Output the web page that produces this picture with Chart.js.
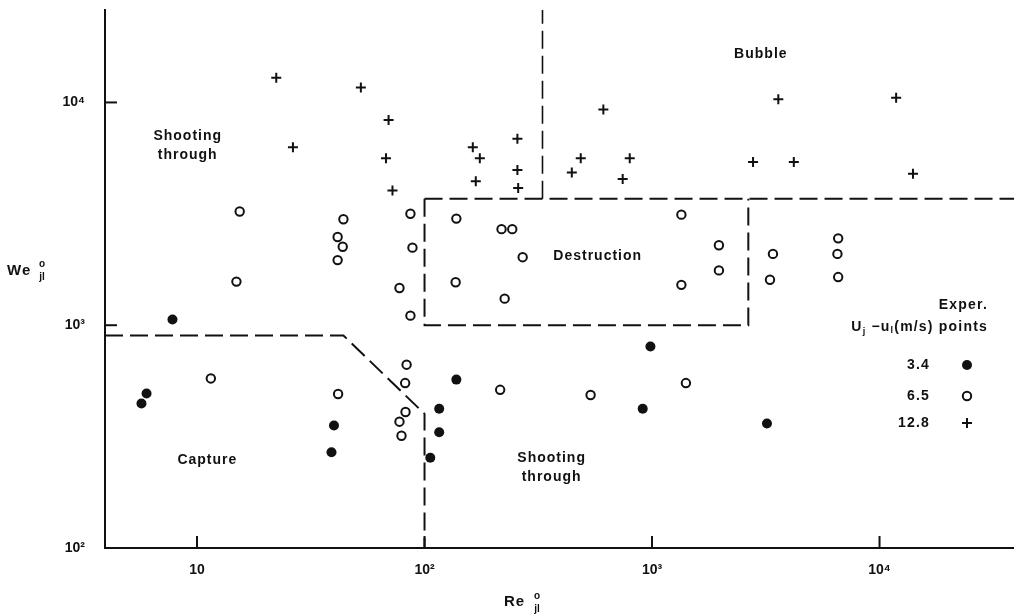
<!DOCTYPE html>
<html>
<head>
<meta charset="utf-8">
<script src="https://cdn.jsdelivr.net/npm/chart.js"></script>
<style>
  html, body { margin: 0; padding: 0; background: #fff; }
  #wrap { width: 1014px; height: 615px; position: relative; }
</style>
</head>
<body>
<div id="wrap"><canvas id="regimeChart"></canvas></div>
<script>
    // axis ranges (Re on x, We on y, both log)
    const xMin = 3.94, xMax = 39000;
    const yMin = 100, yMax = 26000;
    const xTicks = [10, 100, 1000, 10000];
    const yTicks = [100, 1000, 10000];
    const tickText = { 10: '10', 100: '10²', 1000: '10³', 10000: '10⁴' };

    // U_j - u_l = 3.4 m/s (filled circles)
    const re34 = [5.7, 6.0, 7.8, 40, 39, 138, 116, 116, 106, 984, 910, 3200];
    const we34 = [445, 494, 1060, 355, 269, 570, 422, 331, 254, 802, 422, 362];

    // 6.5 m/s (open circles)
    const re65 = [15.4, 14.9, 11.5, 44, 41.5, 43.7, 41.5, 41.7, 86.7, 88.5, 77.6, 86.7, 83.4, 82.2, 82.5, 77.6, 79.2,
                  138, 137, 218, 243, 270, 225, 215, 537, 1346, 1346, 1968, 1968, 1409, 3400, 3300, 6580, 6530, 6580];
    const we65 = [3240, 1570, 577, 2990, 2490, 2250, 1960, 491, 3165, 2230, 1470, 1104, 665, 550, 408, 369, 319,
                  3010, 1560, 2700, 2700, 2020, 1316, 513, 486, 3135, 1518, 2286, 1762, 550, 2090, 1600, 2455, 2090, 1645];

    // 12.8 m/s (crosses)
    const re128 = [22.3, 26.4, 52.5, 69.5, 67.7, 72.3, 163, 175, 168, 256, 256, 258, 444, 486, 611, 743, 798, 2780, 3590, 4200, 11830, 14030];
    const we128 = [12900, 6300, 11670, 8340, 5620, 4030, 6300, 5620, 4430, 6880, 4980, 4130, 4850, 5620, 9290, 4530, 5620, 5400, 10330, 5400, 10500, 4780];

    // regime boundaries (dashed)
    const captureRe = [xMin, 44, 100, 100];
    const captureWe = [900, 900, 400, yMin];
    const boxRe = [100, 100, 2650, 2650];
    const boxWe = [3700, 1000, 1000, 3700];
    const topRe = [100, xMax];
    const topWe = [3700, 3700];
    const bubbleRe = [330, 330];
    const bubbleWe = [3700, yMax];

    // region labels
    const regionText = [['Shooting', 'through'], ['Bubble'], ['Destruction'], ['Capture'], ['Shooting', 'through']];
    const regionRe = [9.1, 3008, 577, 11.1, 362];
    const regionWe = [6370, 16450, 2032, 248, 229];

    const pairs = (xs, ys) => xs.map((x, i) => ({ x: x, y: ys[i] }));
    const FONT = '"Liberation Sans", Arial, sans-serif';

    function boundary(xs, ys, width) {
        return {
            type: 'scatter',
            data: pairs(xs, ys),
            showLine: true,
            borderColor: '#111',
            borderWidth: width,
            borderDash: [18, 7],
            pointRadius: 0,
            fill: false,
            tension: 0
        };
    }

    // draw a run of text pieces ending at xRight, [text, size, dy]
    function runText(ctx, pieces, xRight, y) {
        let total = 0;
        pieces.forEach(p => {
            ctx.font = 'bold ' + p[1] + 'px ' + FONT;
            total += ctx.measureText(p[0]).width;
        });
        let x = xRight - total;
        pieces.forEach(p => {
            ctx.font = 'bold ' + p[1] + 'px ' + FONT;
            ctx.fillText(p[0], x, y + p[2]);
            x += ctx.measureText(p[0]).width;
        });
    }

    const annotate = {
        id: 'annotate',
        afterDraw(chart) {
            const ctx = chart.ctx;
            const xs = chart.scales.x, ys = chart.scales.y;
            const area = chart.chartArea;
            ctx.save();
            ctx.fillStyle = '#111';
            ctx.strokeStyle = '#111';

            // inward tick marks
            ctx.lineWidth = 2;
            xTicks.forEach(v => {
                const px = xs.getPixelForValue(v);
                ctx.beginPath(); ctx.moveTo(px, area.bottom); ctx.lineTo(px, area.bottom - 12); ctx.stroke();
            });
            yTicks.forEach(v => {
                const py = ys.getPixelForValue(v);
                ctx.beginPath(); ctx.moveTo(area.left, py); ctx.lineTo(area.left + 12, py); ctx.stroke();
            });

            // region labels
            ctx.font = 'bold 14px ' + FONT;
            ctx.letterSpacing = '1px';
            ctx.textAlign = 'center';
            ctx.textBaseline = 'middle';
            regionText.forEach((lines, i) => {
                const px = xs.getPixelForValue(regionRe[i]);
                const py = ys.getPixelForValue(regionWe[i]);
                lines.forEach((t, k) => {
                    ctx.fillText(t, px, py + (k - (lines.length - 1) / 2) * 19);
                });
            });

            // axis titles with stacked super/subscripts
            ctx.textAlign = 'left';
            ctx.font = 'bold 15px ' + FONT;
            ctx.fillText('We', 7, 271);
            ctx.fillText('Re', 504, 602);
            ctx.textAlign = 'center';
            ctx.font = 'bold 10px ' + FONT;
            ctx.letterSpacing = '0px';
            ctx.fillText('o', 42, 264);
            ctx.fillText('jl', 42, 277);
            ctx.fillText('o', 537, 596);
            ctx.fillText('jl', 537, 609);

            // legend
            ctx.letterSpacing = '1.2px';
            ctx.font = 'bold 14px ' + FONT;
            ctx.textAlign = 'right';
            ctx.fillText('Exper.', 988, 305);
            ctx.textAlign = 'left';
            runText(ctx, [['U', 14, 0], ['j', 9, 5], [' −u', 14, 0], ['l', 9, 4], ['(m/s) points', 14, 0]], 988, 327);

            ctx.font = 'bold 14px ' + FONT;
            ctx.textAlign = 'right';
            const legVals = ['3.4', '6.5', '12.8'];
            const legY = [365, 396, 423];
            legVals.forEach((t, i) => ctx.fillText(t, 930, legY[i]));
            const mx = 967;
            ctx.beginPath(); ctx.arc(mx, legY[0], 5, 0, Math.PI * 2); ctx.fill();
            ctx.lineWidth = 2;
            ctx.beginPath(); ctx.arc(mx, legY[1], 4.2, 0, Math.PI * 2); ctx.stroke();
            ctx.beginPath();
            ctx.moveTo(mx - 5, legY[2]); ctx.lineTo(mx + 5, legY[2]);
            ctx.moveTo(mx, legY[2] - 5); ctx.lineTo(mx, legY[2] + 5);
            ctx.stroke();
            ctx.restore();
        }
    };

    const ctx = document.getElementById('regimeChart').getContext('2d');
    new Chart(ctx, {
        type: 'scatter',
        data: {
            datasets: [
                boundary(captureRe, captureWe, 2),
                boundary(boxRe, boxWe, 2),
                boundary(topRe, topWe, 2),
                boundary(bubbleRe, bubbleWe, 1.6),
                {
                    label: '3.4',
                    data: pairs(re34, we34),
                    pointStyle: 'circle',
                    pointRadius: 5,
                    backgroundColor: '#111',
                    borderColor: '#111',
                    borderWidth: 0
                },
                {
                    label: '6.5',
                    data: pairs(re65, we65),
                    pointStyle: 'circle',
                    pointRadius: 4.2,
                    backgroundColor: 'rgba(0,0,0,0)',
                    borderColor: '#111',
                    borderWidth: 2
                },
                {
                    label: '12.8',
                    data: pairs(re128, we128),
                    pointStyle: 'cross',
                    pointRadius: 5,
                    borderColor: '#111',
                    borderWidth: 2
                }
            ]
        },
        options: {
            responsive: true,
            maintainAspectRatio: false,
            animation: false,
            layout: { autoPadding: false, padding: { top: 10, right: 0, left: 0, bottom: 0 } },
            plugins: {
                legend: { display: false },
                tooltip: { enabled: false }
            },
            scales: {
                x: {
                    type: 'logarithmic',
                    min: xMin,
                    max: xMax,
                    afterBuildTicks: s => { s.ticks = xTicks.map(v => ({ value: v })); },
                    afterFit: s => { s.height = 67; s.paddingLeft = 0; s.paddingRight = 0; },
                    grid: { display: false, drawTicks: false },
                    border: { display: true, color: '#111', width: 2 },
                    ticks: {
                        autoSkip: false,
                        maxRotation: 0,
                        padding: 14,
                        color: '#111',
                        font: { family: FONT, size: 14, weight: 'bold' },
                        callback: v => tickText[v] || ''
                    }
                },
                y: {
                    type: 'logarithmic',
                    min: yMin,
                    max: yMax,
                    afterBuildTicks: s => { s.ticks = yTicks.map(v => ({ value: v })); },
                    afterFit: s => { s.width = 105; s.paddingTop = 0; s.paddingBottom = 0; },
                    grid: { display: false, drawTicks: false },
                    border: { display: true, color: '#111', width: 2 },
                    ticks: {
                        autoSkip: false,
                        padding: 20,
                        color: '#111',
                        font: { family: FONT, size: 14, weight: 'bold' },
                        callback: v => tickText[v] || ''
                    }
                }
            }
        },
        plugins: [annotate]
    });
</script>
</body>
</html>
